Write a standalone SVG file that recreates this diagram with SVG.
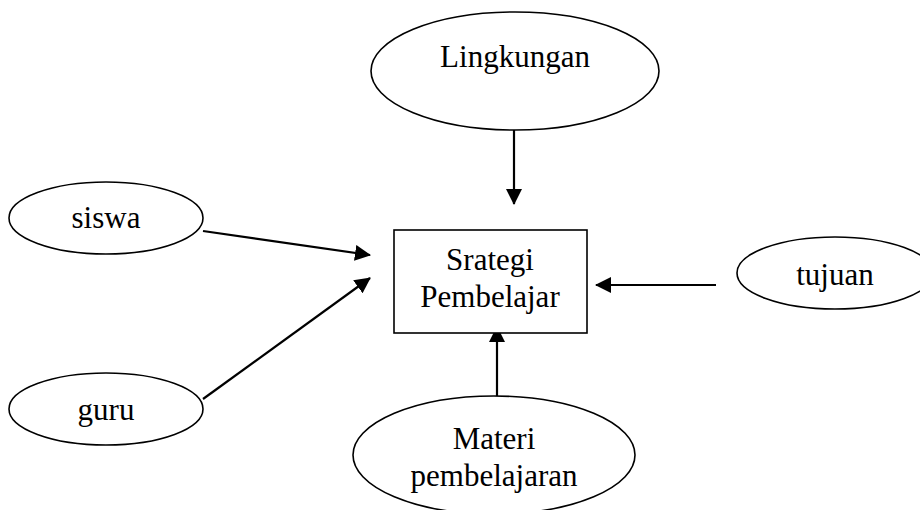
<svg xmlns="http://www.w3.org/2000/svg" width="920" height="510" viewBox="0 0 920 510">
<style>
.shape{fill:#fff;stroke:#000;stroke-width:1.6}
.lbl{font-family:"Liberation Serif","Times New Roman",serif;font-size:31px;fill:#000;text-anchor:middle}
.conn{stroke:#000;stroke-width:2.2;fill:none;marker-end:url(#ah)}
</style>
<defs>
<marker id="ah" markerUnits="userSpaceOnUse" markerWidth="16" markerHeight="16" refX="15" refY="8" orient="auto" viewBox="0 0 16 16">
<path d="M0,0 L16,8 L0,16 z" fill="#000"/>
</marker>
</defs>
<rect width="920" height="510" fill="#fff"/>
<g id="connectors">
<line class="conn" x1="514" y1="130" x2="514" y2="204"/>
<line class="conn" x1="203" y1="231" x2="370" y2="255"/>
<line class="conn" x1="203" y1="399" x2="370" y2="278"/>
<line class="conn" x1="716" y1="285" x2="596" y2="285"/>
<line class="conn" x1="497" y1="396" x2="497" y2="327"/>
</g>
<g id="lingkungan">
<ellipse class="shape" cx="515" cy="71" rx="144" ry="59"/>
<text class="lbl" x="515" y="67">Lingkungan</text>
</g>
<g id="strategi">
<rect class="shape" x="394" y="230" width="193" height="103"/>
<text class="lbl" x="490" y="270">Srategi</text>
<text class="lbl" x="490" y="307">Pembelajar</text>
</g>
<g id="siswa">
<ellipse class="shape" cx="106" cy="218" rx="97" ry="36"/>
<text class="lbl" x="106" y="228">siswa</text>
</g>
<g id="guru">
<ellipse class="shape" cx="106" cy="409" rx="97" ry="36"/>
<text class="lbl" x="106" y="420">guru</text>
</g>
<g id="tujuan">
<ellipse class="shape" cx="835" cy="273" rx="98" ry="36"/>
<text class="lbl" x="835" y="285">tujuan</text>
</g>
<g id="materi">
<ellipse class="shape" cx="494" cy="455" rx="141" ry="59"/>
<text class="lbl" x="494" y="449">Materi</text>
<text class="lbl" x="494" y="486">pembelajaran</text>
</g>
</svg>
